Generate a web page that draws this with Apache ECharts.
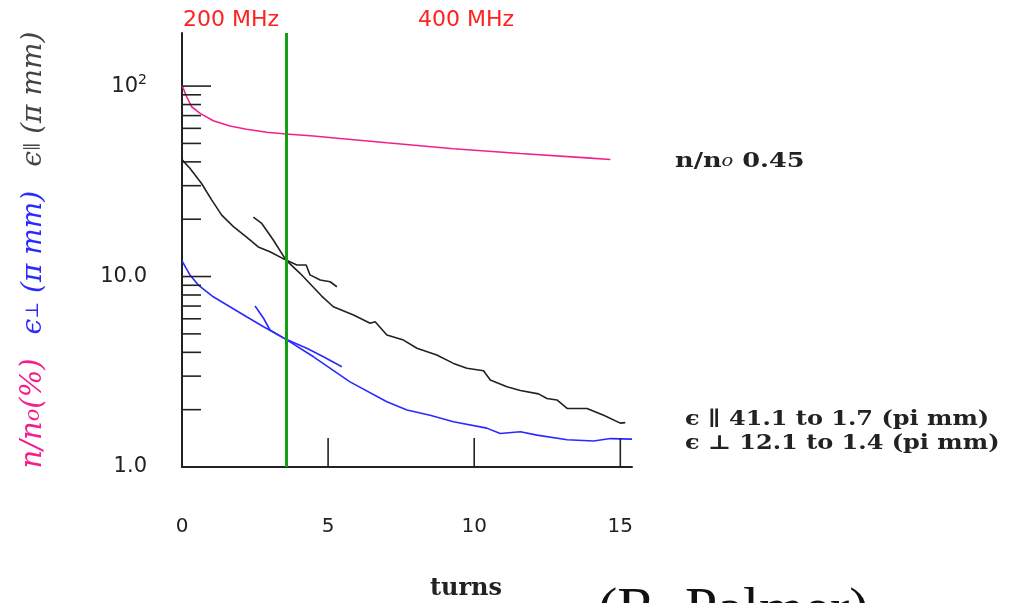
<!DOCTYPE html>
<html>
<head>
<meta charset="utf-8">
<script src="https://cdn.jsdelivr.net/npm/echarts@6/dist/echarts.min.js"></script>
<style>
html, body { margin: 0; padding: 0; background: #fff; }
#chart { width: 1022px; height: 603px; }
</style>
</head>
<body>
<div id="chart"></div>
<script>
// n/no (%)
const nnTurns = [0, 0.16, 0.33, 0.62, 1.07, 1.64, 2.21, 2.9, 3.56, 4.5, 5.41, 7.01, 9.29, 11.58, 13.86, 14.66]
const nnValues = [101, 87.9, 77.9, 71.9, 65.8, 61.7, 59.3, 57.2, 56.0, 54.7, 53.1, 50.4, 46.9, 44.3, 42.0, 41.2]
// eps parallel (pi mm)
const eparTurns = [0, 0.27, 0.67, 1.02, 1.36, 1.76, 2.21, 2.61, 3.01, 3.56, 4.04, 4.78, 5.18, 5.87, 6.44, 6.61, 7.01, 7.58, 8.04, 8.72, 9.29, 9.75, 10.32, 10.55, 11.12, 11.58, 12.2, 12.49, 12.83, 13.18, 13.86, 14.43, 15.0, 15.17]
const eparValues = [41.1, 37.0, 30.8, 25.2, 21.0, 18.3, 16.1, 14.3, 13.5, 12.2, 10.4, 7.9, 6.94, 6.28, 5.68, 5.79, 4.93, 4.64, 4.2, 3.87, 3.5, 3.3, 3.2, 2.86, 2.64, 2.52, 2.42, 2.29, 2.25, 2.03, 2.03, 1.87, 1.7, 1.71]
const epar2Turns = [2.44, 2.73, 3.13, 3.56, 3.93, 4.25, 4.38, 4.73, 5.07, 5.3]
const epar2Values = [20.5, 19.0, 15.5, 12.2, 11.5, 11.5, 10.2, 9.59, 9.39, 8.84]
// eps perpendicular (pi mm)
const eperpTurns = [0, 0.27, 0.56, 1.07, 1.64, 2.21, 2.79, 3.56, 4.5, 5.75, 7.01, 7.7, 8.49, 9.29, 10.43, 10.89, 11.58, 12.15, 13.18, 14.09, 14.66, 15.4]
const eperpValues = [12.1, 10.2, 9.02, 7.83, 6.94, 6.15, 5.45, 4.68, 3.79, 2.8, 2.2, 1.99, 1.87, 1.73, 1.6, 1.5, 1.53, 1.47, 1.39, 1.37, 1.41, 1.4]
const eperp2Turns = [2.5, 2.79, 3.01, 3.56, 4.27, 4.84, 5.47]
const eperp2Values = [7.0, 6.04, 5.24, 4.68, 4.2, 3.79, 3.36]

const rfSwitch = 3.56 // 200 -> 400 MHz
const xTicks = [5, 10, 15]
const yMajorTicks = [10, 100]
const yMinorTicks = [2, 3, 4, 5, 6, 7, 8, 9, 20, 30, 40, 50, 60, 70, 80, 90]
const yLabelValues = [1, 10, 100]
const yLabelTexts = ['1.0', '10.0', '10{sup|2}']

const zip = (xs, ys) => xs.map((x, i) => [x, ys[i]])

const PINK = '#f2208c'
const BLUE = '#2a2aff'
const BLACK = '#222'

function lineSeries(name, data, color) {
  return {
    name: name,
    type: 'line',
    data: data,
    showSymbol: false,
    symbol: 'none',
    silent: true,
    lineStyle: { color: color, width: 1.6 },
    z: 3
  }
}

// ticks drawn inward from the axes
function tickSeries(values, axis, len) {
  return {
    type: 'custom',
    silent: true,
    clip: false,
    z: 4,
    data: values.map(v => (axis === 'y' ? [0, v] : [v, 1])),
    renderItem: (params, api) => {
      const p = api.coord([api.value(0), api.value(1)])
      const shape = axis === 'y'
        ? { x1: p[0], y1: p[1], x2: p[0] + len, y2: p[1] }
        : { x1: p[0], y1: p[1], x2: p[0], y2: p[1] - len }
      return { type: 'line', shape: shape, style: { stroke: BLACK, lineWidth: 1.6 } }
    }
  }
}

const myChart = echarts.init(document.getElementById('chart'))
const option = {
  backgroundColor: '#fff',
  animation: false,
  grid: { left: 182, top: 33, right: 390, bottom: 136 },
  xAxis: {
    type: 'value',
    min: 0,
    max: 15.4,
    interval: 5,
    splitLine: { show: false },
    axisTick: { show: false },
    axisLine: { lineStyle: { color: BLACK, width: 2 } },
    axisLabel: {
      showMaxLabel: false,
      margin: 50,
      color: '#222',
      fontFamily: 'DejaVu Sans',
      fontSize: 20
    }
  },
  yAxis: {
    type: 'log',
    logBase: 10,
    min: 1,
    max: 190,
    splitLine: { show: false },
    axisTick: { show: false },
    axisLine: { show: true, lineStyle: { color: BLACK, width: 2 } },
    axisLabel: {
      showMaxLabel: false,
      margin: 35,
      color: '#222',
      fontFamily: 'DejaVu Sans',
      fontSize: 21,
      rich: {
        sup: { fontFamily: 'DejaVu Sans', fontSize: 14, color: '#222', padding: [0, 0, 12, 0] }
      },
      formatter: function(value) {
        const i = yLabelValues.findIndex(v => Math.abs(v - value) < 1e-6 * v)
        return i >= 0 ? yLabelTexts[i] : ''
      }
    },
    name: '{p|n/n}{ps|o}{p|(%)}{g|}{b|ϵ}{bs|⊥}{b| (π mm)}{g|}{k|ϵ}{ks|∥}{k| (π mm)}',
    nameLocation: 'middle',
    nameRotate: 90,
    nameGap: 134,
    nameTextStyle: {
      rich: {
        p: { color: PINK, fontFamily: 'DejaVu Serif', fontStyle: 'italic', fontSize: 29 },
        ps: { color: PINK, fontFamily: 'DejaVu Serif', fontStyle: 'italic', fontSize: 21 },
        b: { color: BLUE, fontFamily: 'DejaVu Serif', fontStyle: 'italic', fontSize: 28 },
        bs: { color: BLUE, fontFamily: 'DejaVu Serif', fontSize: 18 },
        k: { color: '#444', fontFamily: 'DejaVu Serif', fontStyle: 'italic', fontSize: 28 },
        ks: { color: '#444', fontFamily: 'DejaVu Serif', fontSize: 18 },
        g: { width: 24 }
      }
    }
  },
  series: [
    Object.assign(lineSeries('n/no', zip(nnTurns, nnValues), PINK), {
      markLine: {
        silent: true,
        symbol: ['none', 'none'],
        label: { show: false },
        lineStyle: { color: '#14a014', width: 3, type: 'solid' },
        data: [{ xAxis: rfSwitch }]
      }
    }),
    lineSeries('eps par', zip(eparTurns, eparValues), BLACK),
    lineSeries('eps par 2', zip(epar2Turns, epar2Values), BLACK),
    lineSeries('eps perp', zip(eperpTurns, eperpValues), BLUE),
    lineSeries('eps perp 2', zip(eperp2Turns, eperp2Values), BLUE),
    tickSeries(yMajorTicks, 'y', 29),
    tickSeries(yMinorTicks, 'y', 19),
    tickSeries(xTicks, 'x', 29)
  ],
  graphic: [
    { type: 'text', x: 183, y: 20, style: { text: '200 MHz', fill: '#ff2020', font: '22px "DejaVu Sans"', verticalAlign: 'middle' } },
    { type: 'text', x: 418, y: 20, style: { text: '400 MHz', fill: '#ff2020', font: '22px "DejaVu Sans"', verticalAlign: 'middle' } },
    {
      type: 'text', x: 675, y: 162, scaleX: 1.22,
      style: {
        text: '{a|n/n}{o|o}{a| 0.45}',
        verticalAlign: 'middle',
        rich: {
          a: { fill: '#222', font: 'bold 21px "DejaVu Serif"' },
          o: { fill: '#222', font: 'italic 16px "DejaVu Serif"' }
        }
      }
    },
    { type: 'text', x: 685, y: 420, scaleX: 1.2, style: { text: 'ϵ ∥ 41.1 to 1.7 (pi mm)', fill: '#222', font: 'bold 20px "DejaVu Serif"', verticalAlign: 'middle' } },
    { type: 'text', x: 685, y: 444, scaleX: 1.2, style: { text: 'ϵ ⊥ 12.1 to 1.4 (pi mm)', fill: '#222', font: 'bold 20px "DejaVu Serif"', verticalAlign: 'middle' } },
    { type: 'text', x: 466, y: 589, style: { text: 'turns', fill: '#222', font: 'bold 24px "DejaVu Serif"', align: 'center', verticalAlign: 'middle' } },
    { type: 'text', x: 598, y: 583, style: { text: '(R. Palmer)', fill: '#111', font: '58px "Liberation Serif"', verticalAlign: 'top' } }
  ]
}
myChart.setOption(option)
window.onresize = myChart.resize
</script>
</body>
</html>
